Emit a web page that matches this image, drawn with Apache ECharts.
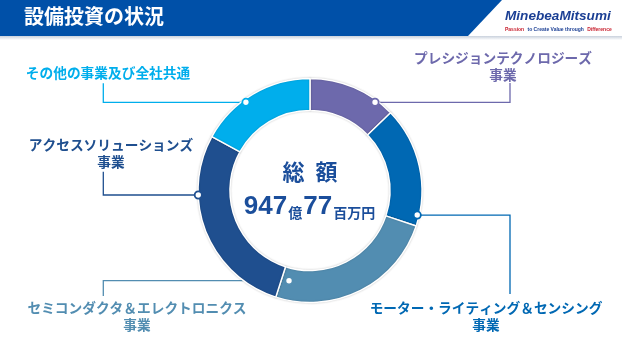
<!DOCTYPE html>
<html>
<head>
<meta charset="utf-8">
<script src="https://cdn.jsdelivr.net/npm/echarts@6/dist/echarts.min.js"></script>
<style>
  html, body { margin: 0; padding: 0; background: #ffffff; }
  #chart { width: 622px; height: 350px; }
</style>
</head>
<body>
<div id="chart"></div>
<script>
// ---- data ----
var categories = [
  'プレシジョンテクノロジーズ\n事業',
  'モーター・ライティング＆センシング\n事業',
  'セミコンダクタ＆エレクトロニクス\n事業',
  'アクセスソリューションズ\n事業',
  'その他の事業及び全社共通'
];
var values = [121.1, 164.5, 235.1, 265.9, 161.1]; // 億円
var totalLabel = ['947', '億', '77', '百万円'];
var pageTitle = '設備投資の状況';
var centerTitle = ['総', '額'];

// ---- styles / layout ----
var colors = ['#6D69AC', '#0068B3', '#528DB1', '#1F4F8F', '#00AEEC'];
var CX = 310, CY = 190.5, R_IN = 80, R_OUT = 112;
var layout = [
  { dotA: 36.4,  dotR: 109.6, cornerX: 510,   endY: 83,    lx: 503, ly: 66 },
  { dotA: 102.9, dotR: 110,   cornerX: 510,   endY: 294,   lx: 486, ly: 316 },
  { dotA: 193.1, dotR: 92.6,  cornerX: 103.3, endY: 296,   lx: 137, ly: 316 },
  { dotA: 267.7, dotR: 111.8, cornerX: 103.3, endY: 171.7, lx: 111, ly: 153 },
  { dotA: 324,   dotR: 109,   cornerX: 103.3, endY: 83.3,  lx: 108, ly: 73 }
];
function dotPos(i) {
  var a = layout[i].dotA * Math.PI / 180;
  return [CX + layout[i].dotR * Math.sin(a), CY - layout[i].dotR * Math.cos(a)];
}

var JP = "'Noto Sans CJK JP', 'Noto Sans', sans-serif";

var chart = echarts.init(document.getElementById('chart'), null, { renderer: 'canvas' });

var pieData = categories.map(function (c, i) {
  return {
    name: c,
    value: values[i],
    itemStyle: { color: colors[i] },
    label: { color: colors[i] },
    labelLine: { lineStyle: { color: colors[i] } }
  };
});

var graphics = [
  // header bar
  { type: 'rect', shape: { x: 0, y: 36, width: 622, height: 4 }, silent: true,
    style: { fill: new echarts.graphic.LinearGradient(0, 0, 0, 1, [
      { offset: 0, color: '#c9d1dc' }, { offset: 1, color: '#ffffff' }]) } },
  { type: 'polygon', shape: { points: [[0, 0], [502, 0], [468, 36], [0, 36]] }, silent: true,
    style: { fill: '#0050A8' } },
  { type: 'text', left: 24, top: 6, silent: true,
    style: { text: pageTitle, fill: '#ffffff', font: 'bold 20px ' + JP } },
  // logo
  { type: 'text', x: 505, y: 9, silent: true,
    style: { text: 'MinebeaMitsumi', fill: '#1B3F94',
      font: "italic bold 13.6px 'Liberation Sans', Arial, sans-serif" } },
  { type: 'text', x: 505, y: 24, silent: true,
    style: { text: '{r|Passion} {b|to Create Value through} {r|Difference}',
      rich: {
        r: { fill: '#C8202E', font: "bold 5px 'Liberation Sans', Arial, sans-serif" },
        b: { fill: '#1B3F94', font: "bold 5px 'Liberation Sans', Arial, sans-serif" }
      } } },
  // center text
  { type: 'text', x: CX, y: 171.5, z: 50, silent: true,
    style: { text: '{a|' + centerTitle[0] + '} {a|' + centerTitle[1] + '}', fill: '#1B4E9B',
      font: 'bold 22px ' + JP, align: 'center', verticalAlign: 'middle',
      rich: { a: { fill: '#1B4E9B', font: 'bold 22px ' + JP, padding: [0, 3, 0, 3] } } } },
  { type: 'text', x: CX, y: 206, z: 50, silent: true,
    style: {
      text: '{n|' + totalLabel[0] + '}{u|' + totalLabel[1] + '}{n|' + totalLabel[2] + '}{u|' + totalLabel[3] + '}',
      align: 'center', verticalAlign: 'middle',
      rich: {
        n: { fill: '#1B4E9B', font: "bold 26px 'Liberation Sans', Arial, sans-serif", lineHeight: 28, verticalAlign: 'bottom' },
        u: { fill: '#1B4E9B', font: 'bold 14px ' + JP, lineHeight: 28, verticalAlign: 'bottom', padding: [0, 1, 0, 1] }
      }
    } }
];

// dots on the ring
layout.forEach(function (l, i) {
  var p = dotPos(i);
  graphics.push({ type: 'circle', z: 100, silent: true,
    shape: { cx: p[0], cy: p[1], r: 3.6 },
    style: { fill: '#ffffff', stroke: colors[i], lineWidth: 1.8 } });
});

var option = {
  backgroundColor: '#ffffff',
  animation: false,
  series: [{
    type: 'pie',
    center: [CX, CY],
    radius: [R_IN, R_OUT],
    startAngle: 90,
    clockwise: true,
    avoidLabelOverlap: false,
    data: pieData,
    itemStyle: { borderColor: '#ffffff', borderWidth: 1.5,
      shadowBlur: 2, shadowColor: 'rgba(0,0,0,0.18)' },
    label: {
      show: true,
      position: 'outside',
      formatter: '{b}',
      fontFamily: "'Noto Sans CJK JP', sans-serif",
      fontSize: 13.7,
      fontWeight: 'bold',
      lineHeight: 17,
      align: 'center'
    },
    labelLine: { show: true, smooth: false, lineStyle: { width: 1.3 } },
    labelLayout: function (params) {
      var i = params.dataIndex;
      var l = layout[i];
      var p = dotPos(i);
      return {
        x: l.lx,
        y: l.ly,
        align: 'center',
        verticalAlign: 'middle',
        labelLinePoints: [[p[0], p[1]], [l.cornerX, p[1]], [l.cornerX, l.endY]]
      };
    },
    emphasis: { disabled: true }
  }],
  graphic: graphics
};
chart.setOption(option);
</script>
</body>
</html>
